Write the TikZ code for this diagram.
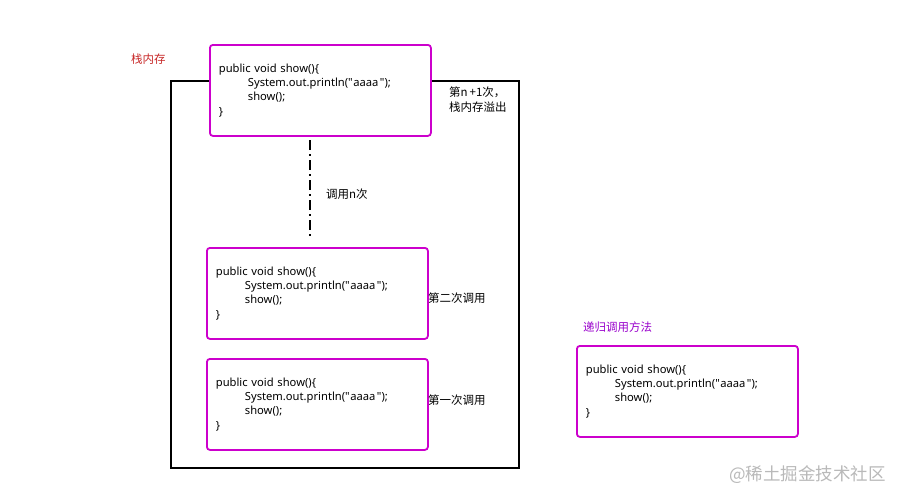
\documentclass[tikz,border=0pt]{standalone}
\usepackage{fontspec}
\setmainfont{Noto Sans}[Ligatures=TeXOff]
\newfontfamily\cjk{Noto Sans CJK SC}
\definecolor{boxmag}{RGB}{204,0,204}
\definecolor{lblred}{RGB}{200,40,40}
\definecolor{lblpur}{RGB}{153,0,204}
\definecolor{wmgray}{RGB}{185,185,185}
\newcommand{\qopen}{\char"22\hspace{0.5pt}}
\newcommand{\qclose}{\hspace{1.5pt}\char"22}
\newcommand{\codeblock}{public void show()\{\\\hspace*{29pt}System.out.println(\qopen aaaa\qclose);\\\hspace*{29pt}show();\\\}}
\tikzset{
  codebox/.style={draw=boxmag, line width=1.8pt, rounded corners=3pt, fill=white,
    minimum width=221pt, minimum height=91pt, text width=203pt, align=left,
    inner xsep=9pt, font=\fontsize{11.2}{14.4}\selectfont, anchor=north west},
  lbl/.style={anchor=west, font=\cjk\fontsize{11.5}{15}\selectfont, inner sep=0pt, align=left},
}
\begin{document}
\begin{tikzpicture}[x=1pt,y=-1pt]
\useasboundingbox (0,0) rectangle (907,501);
\fill[white] (0,0) rectangle (907,501);
% stack frame
\draw[line width=1.5pt] (171,81) rectangle (519,468);
\node[lbl, text=lblred] (stacklbl) at (131,59) {栈内存};
% boxes
\node[codebox] (top) at (209,44) {\codeblock};
\node[codebox] (second) at (206,247) {\codeblock};
\node[codebox] (first) at (206,358) {\codeblock};
\node[codebox] (method) at (576,345) {\codeblock};
% dash-dot
\coordinate (dtop) at (310,140);
\coordinate (dbot) at (310,238);
\draw[line width=1.6pt, dash pattern=on 10pt off 4pt on 2pt off 4pt] (dtop) -- (dbot);
\node[lbl] (ncall) at (326,194) {调用n次};
\node[lbl] (overflow) at (449,99.5) {第n\,+1次，\\栈内存溢出};
\node[lbl] (l2) at (428,298) {第二次调用};
\node[lbl] (l1) at (428,400) {第一次调用};
\node[lbl, text=lblpur] (mlbl) at (583,327) {递归调用方法};
\node[lbl, text=wmgray, font=\cjk\fontsize{17.5}{20}\selectfont] (wm) at (729,475) {@稀土掘金技术社区};
\end{tikzpicture}
\end{document}
